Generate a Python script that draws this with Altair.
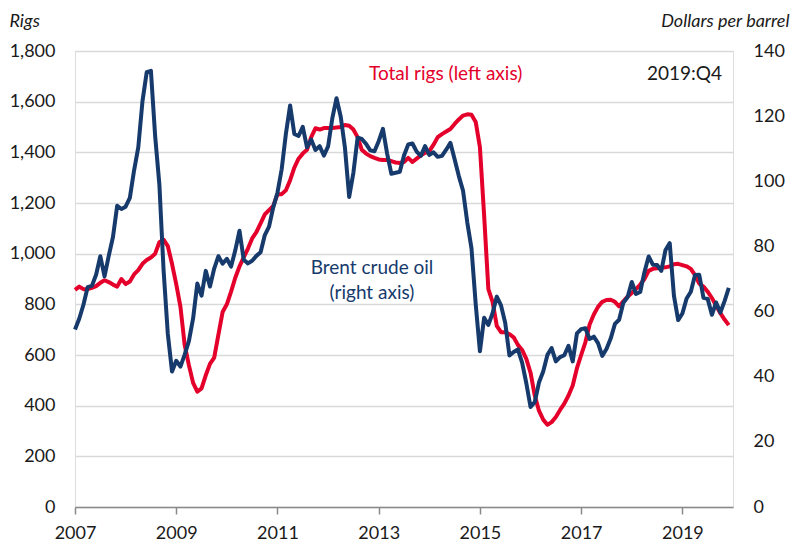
import altair as alt
import pandas as pd

years = list(range(2007, 2020))

# Total rigs (left axis), monthly Jan 2007 - Dec 2019
rigs = [
    857, 870, 860, 860, 865, 872, 885, 895, 888, 878, 870, 900,        # 2007
    880, 890, 918, 935, 960, 975, 985, 1000, 1045, 1055, 1030, 960,    # 2008
    880, 790, 640, 560, 490, 455, 468, 520, 565, 590, 680, 770,        # 2009
    800, 850, 905, 950, 985, 1020, 1060, 1085, 1120, 1155, 1172, 1188, # 2010
    1235, 1235, 1250, 1290, 1340, 1375, 1395, 1410, 1460, 1495, 1490, 1496,  # 2011
    1496, 1496, 1498, 1500, 1508, 1505, 1490, 1460, 1410, 1395, 1385, 1378,  # 2012
    1372, 1370, 1370, 1365, 1360, 1358, 1362, 1378, 1362, 1375, 1388, 1398,  # 2013
    1405, 1430, 1460, 1472, 1482, 1492, 1512, 1530, 1545, 1550, 1548, 1520,  # 2014
    1420, 1150, 860, 810, 715, 690, 690, 682, 670, 640, 620, 585,      # 2015
    530, 440, 380, 345, 325, 335, 355, 383, 408, 440, 480, 548,        # 2016
    600, 650, 720, 760, 790, 810, 817, 818, 810, 792, 812, 830,        # 2017
    845, 860, 878, 900, 932, 940, 942, 944, 946, 950, 958, 960,        # 2018
    955, 950, 940, 915, 882, 870, 850, 825, 795, 765, 740, 718,        # 2019
]

# Brent crude oil, dollars per barrel (right axis), monthly
brent = [
    54.5, 57.8, 62.1, 67.5, 67.9, 71.3, 77.0, 70.8, 77.1, 82.9, 92.5, 91.5,
    92.2, 94.9, 103.3, 110.4, 124.6, 133.5, 133.9, 113.9, 99.1, 72.7, 53.2, 41.6,
    44.9, 43.1, 46.8, 50.9, 57.9, 68.6, 64.9, 72.5, 67.7, 73.2, 77.0, 74.7,
    76.2, 73.8, 78.8, 84.8, 75.9, 74.8, 75.6, 77.1, 78.2, 83.5, 86.1, 92.0,
    96.5, 103.7, 114.6, 123.3, 114.5, 113.9, 116.7, 110.4, 112.8, 109.6, 110.8, 107.9,
    110.7, 119.3, 125.5, 119.8, 110.3, 95.2, 102.6, 113.4, 113.0, 111.5, 109.5, 109.2,
    112.3, 116.1, 108.5, 102.3, 102.6, 102.9, 107.9, 111.3, 111.6, 109.1, 107.8, 110.8,
    108.1, 108.9, 107.5, 107.8, 109.7, 111.8, 106.8, 101.6, 97.1, 87.4, 79.4, 62.3,
    47.8, 58.1, 55.9, 59.5, 64.6, 61.9, 56.5, 46.5, 47.6, 48.4, 44.3, 38.0,
    30.7, 32.2, 38.2, 41.6, 46.7, 48.8, 44.7, 46.0, 46.6, 49.5, 44.7, 53.3,
    54.6, 54.9, 51.6, 52.3, 50.3, 46.4, 48.5, 51.7, 56.2, 57.5, 62.7, 64.4,
    69.1, 65.4, 66.0, 72.1, 76.9, 74.4, 74.3, 72.5, 78.9, 81.0, 64.8, 57.4,
    59.4, 64.0, 66.1, 71.2, 71.3, 64.2, 63.9, 59.0, 62.8, 59.7, 63.2, 67.3,
]

x_ticks = [2007, 2009, 2011, 2013, 2015, 2017, 2019]
left_ticks = [0, 200, 400, 600, 800, 1000, 1200, 1400, 1600, 1800]
right_ticks = [0, 20, 40, 60, 80, 100, 120, 140]

dates = [y + m / 12 for y in years for m in range(12)]
df = pd.DataFrame({"t": dates, "rigs": rigs, "brent": brent})

RED = "#E4002B"
BLUE = "#163A6C"
FONT = "Lato"
TXT = "#1a1a1a"

xenc = alt.X(
    "t:Q",
    scale=alt.Scale(domain=[2007, 2020], nice=False, zero=False),
    axis=alt.Axis(
        values=x_ticks, format="d", title=None, grid=False,
        domain=True, domainColor="#8a8a8a", domainWidth=1.5,
        ticks=True, tickColor="#8a8a8a", tickSize=7, tickWidth=1.5,
        labelPadding=10, labelFontSize=18, labelColor=TXT, labelFont=FONT,
        labelFlush=False, labelOverlap=False,
    ),
)

base = alt.Chart(df)

red_line = base.mark_line(color=RED, strokeWidth=4, strokeJoin="round").encode(
    x=xenc,
    y=alt.Y(
        "rigs:Q",
        scale=alt.Scale(domain=[0, 1800], nice=False),
        axis=alt.Axis(
            orient="left", values=left_ticks, format=",.0f",
            grid=True, gridColor="#d9d9d9", gridWidth=1.5,
            domain=False, ticks=False, labelPadding=20,
            labelFontSize=18, labelColor=TXT, labelFont=FONT,
            title="Rigs", titleAngle=0, titleFontStyle="italic",
            titleFontWeight="normal", titleFont=FONT, titleFontSize=18,
            titleColor=TXT, titleAlign="left", titleBaseline="alphabetic",
            titleX=-66, titleY=-25,
        ),
    ),
)

blue_line = base.mark_line(color=BLUE, strokeWidth=4, strokeJoin="round").encode(
    x=xenc,
    y=alt.Y(
        "brent:Q",
        scale=alt.Scale(domain=[0, 140], nice=False),
        axis=alt.Axis(
            orient="right", values=right_ticks, format="d",
            grid=False, domain=False, ticks=False, labelPadding=20,
            labelFontSize=18, labelColor=TXT, labelFont=FONT,
            title="Dollars per barrel", titleAngle=0, titleFontStyle="italic",
            titleFontWeight="normal", titleFont=FONT, titleFontSize=18,
            titleColor=TXT, titleAlign="right", titleBaseline="alphabetic",
            titleX=56, titleY=-25,
        ),
    ),
)

one = pd.DataFrame({"a": [0]})

def label(text, x, y, color, align="left"):
    return alt.Chart(one).mark_text(
        text=text, align=align, baseline="alphabetic", font=FONT,
        fontSize=19, color=color,
    ).encode(x=alt.value(x), y=alt.value(y))

t1 = label("Total rigs (left axis)", 294, 29, RED)
t2 = label("2019:Q4", 572, 29, TXT)
t3 = label("Brent crude oil", 297, 223, BLUE, align="center")
t4 = label("(right axis)", 297, 248, BLUE, align="center")

lines = alt.layer(red_line, blue_line).resolve_scale(y="independent")

chart = alt.layer(lines, t1, t2, t3, t4).properties(
    width=658, height=456,
    padding={"left": 67, "top": 43, "right": 59, "bottom": 34},
    autosize="none",
).configure_view(stroke=None).configure(background="white")

chart.save("out.html", embed_options={"renderer": "svg", "actions": False})
